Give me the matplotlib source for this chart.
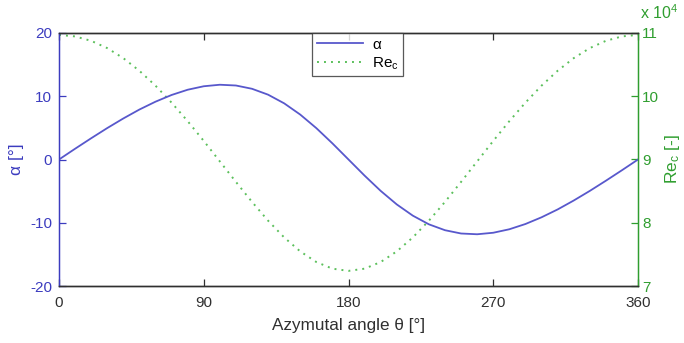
import numpy as np
import matplotlib
matplotlib.use("Agg")
import matplotlib.pyplot as plt

plt.rcParams['font.family'] = ['Liberation Sans', 'DejaVu Sans']
plt.rcParams['mathtext.fontset'] = 'custom'
plt.rcParams['mathtext.rm'] = 'Liberation Sans'
plt.rcParams['mathtext.it'] = 'Liberation Sans'
plt.rcParams['axes.unicode_minus'] = False

# Azimuthal positions of the blade [deg]
theta = [0, 10, 20, 30, 40, 50, 60, 70, 80, 90, 100, 110, 120, 130, 140, 150, 160, 170, 180,
         190, 200, 210, 220, 230, 240, 250, 260, 270, 280, 290, 300, 310, 320, 330, 340, 350, 360]

# Angle of attack [deg]
alpha = [0.00, 1.70, 3.36, 4.97, 6.49, 7.90, 9.14, 10.20, 11.03, 11.58, 11.82, 11.70, 11.18,
         10.25, 8.88, 7.10, 4.96, 2.55, 0.00,
         -2.55, -4.96, -7.10, -8.88, -10.25, -11.18, -11.70, -11.82, -11.58, -11.03, -10.20,
         -9.14, -7.90, -6.49, -4.97, -3.36, -1.70, 0.00]

# Chord Reynolds number [-]
re_c = [109700, 109460, 108760, 107610, 106020, 104020, 101670, 98990, 96060, 92940, 89700,
        86460, 83300, 80330, 77680, 75470, 73790, 72740, 72390,
        72740, 73790, 75470, 77680, 80330, 83300, 86460, 89700, 92940, 96060, 98990,
        101670, 104020, 106020, 107610, 108760, 109460, 109700]

x_ticks = [0, 90, 180, 270, 360]
alpha_ticks = [-20, -10, 0, 10, 20]
re_ticks = [7, 8, 9, 10, 11]
re_scale = 1e4

blue_text = '#3c3cbf'
blue_line = '#5858cc'
green_text = '#2f9e2f'
green_line = '#5cc05c'
dark = '#303030'

fig = plt.figure(figsize=(6.84, 3.43), dpi=100)
ax = fig.add_axes([59 / 684, 1 - 286 / 343, 579 / 684, 253 / 343])
ax2 = ax.twinx()

l1, = ax.plot(theta, alpha, color=blue_line, lw=1.3, label=r'$\alpha$')
l2, = ax2.plot(theta, np.asarray(re_c) / re_scale, color=green_line, lw=1.4,
               linestyle=(0, (1, 2.6)), label=r'Re$_\mathrm{c}$')

ax.set_xlim(0, 360)
ax.set_ylim(-20, 20)
ax2.set_ylim(7, 11)
ax.set_xticks(x_ticks)
ax.set_yticks(alpha_ticks)
ax2.set_yticks(re_ticks)

fs = 11
ax.tick_params(axis='x', direction='in', length=5, width=0.9, colors=dark,
               labelsize=fs, top=True, pad=7)
ax.tick_params(axis='y', direction='in', length=5, width=0.9, colors=blue_text,
               labelsize=fs, pad=5)
ax2.tick_params(axis='y', direction='in', length=5, width=0.9, colors=green_text,
                labelsize=fs, pad=3)

for side in ['top', 'bottom']:
    ax.spines[side].set_color(dark)
    ax.spines[side].set_linewidth(1.0)
ax2.spines['top'].set_color(dark)
ax2.spines['bottom'].set_color(dark)
ax.spines['left'].set_color(blue_text)
ax2.spines['left'].set_color(blue_text)
ax.spines['right'].set_color(green_text)
ax2.spines['right'].set_color(green_text)
for sp in ax2.spines.values():
    sp.set_linewidth(1.0)

ax.set_xlabel(r'Azymutal angle θ [°]', fontsize=12.3, color=dark, labelpad=6)
ax.set_ylabel(r'α [°]', fontsize=12.5, color=blue_text, labelpad=4)
ax2.set_ylabel(r'Re$_\mathrm{c}$ [-]', fontsize=12.5, color=green_text, labelpad=3)

fig.text(640 / 684, 1 - 19 / 343, r'x 10$^4$', color=green_text, fontsize=11.5,
         ha='left', va='baseline')

leg = ax.legend(handles=[l1, l2], loc='upper center', bbox_to_anchor=(0.516, 1.0),
                fontsize=fs, frameon=True, fancybox=False, edgecolor=dark,
                handlelength=3.0, handletextpad=0.6, borderpad=0.3,
                labelspacing=0.25, borderaxespad=0.0)
leg.get_frame().set_linewidth(0.9)
leg.set_zorder(10)
ax.set_zorder(ax2.get_zorder() + 1)
ax.patch.set_visible(False)

fig.savefig('out.png', dpi=100, facecolor='white')
